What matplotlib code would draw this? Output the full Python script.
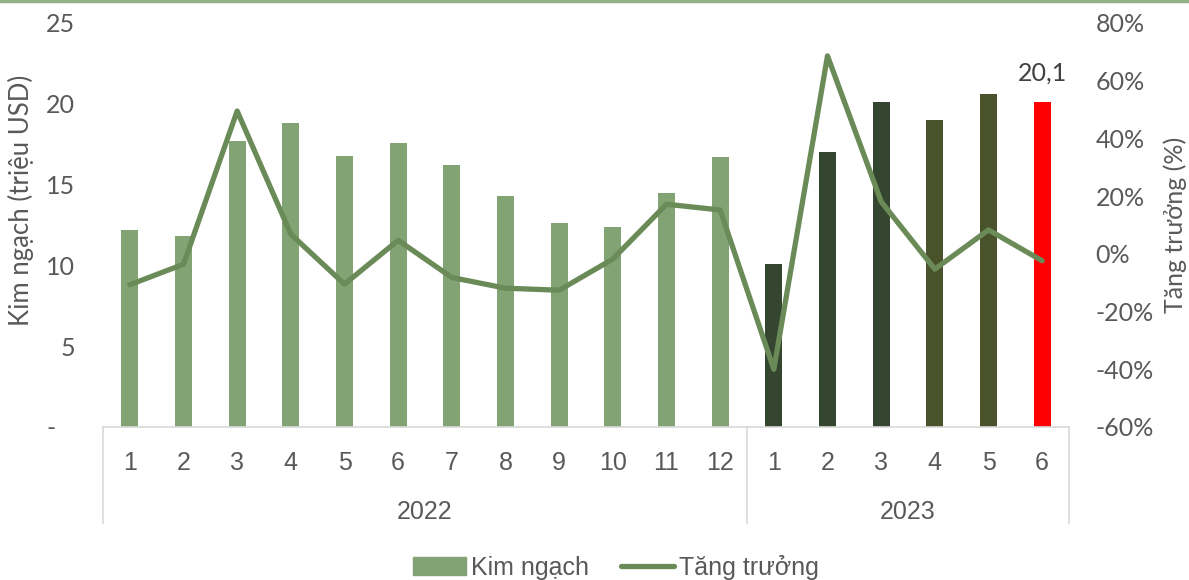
import matplotlib
matplotlib.use("Agg")
import matplotlib.pyplot as plt
from matplotlib.lines import Line2D
from matplotlib.patches import Patch
import matplotlib.transforms as mtransforms

# monthly export value (million USD) and growth (%)
months = ['1', '2', '3', '4', '5', '6', '7', '8', '9', '10', '11', '12',
          '1', '2', '3', '4', '5', '6']
years = ['2022', '2023']
year_counts = [12, 6]
kim_ngach = [12.2, 11.8, 17.7, 18.8, 16.8, 17.6, 16.2, 14.3, 12.6, 12.4, 14.5, 16.7,
             10.1, 17.0, 20.1, 19.0, 20.6, 20.1]
tang_truong = [-10.7, -3.6, 49.5, 6.8, -10.5, 4.7, -8.2, -11.9, -12.6, -1.8, 17.2, 15.2,
               -40.0, 68.6, 18.1, -5.3, 8.3, -2.4]
label_value = '20,1'

light = '#82A373'
dark = '#344530'
olive = '#4A522B'
bar_colors = [light] * 12 + [dark] * 3 + [olive] * 2 + ['#FF0000']
line_color = '#6A8B57'
txt = '#595959'
fs = 18

fig = plt.figure(figsize=(11.89, 5.80), dpi=100)
ax = fig.add_axes([103 / 1189, 1 - 427 / 580, (1069 - 103) / 1189, 404 / 580])
x = list(range(len(months)))

ax.bar(x, kim_ngach, width=0.32, color=bar_colors, zorder=2)
ax.set_xlim(-0.5, len(months) - 0.5)
ax.set_ylim(0, 25)
ax.set_yticks([0, 5, 10, 15, 20, 25])
ax.set_yticklabels(['-   ', '5', '10', '15', '20', '25'], fontfamily='Lato', fontsize=fs, color=txt)
ax.set_xticks(x)
ax.set_xticklabels(months, fontfamily='Liberation Sans', fontsize=fs, color=txt)
ax.tick_params(axis='x', length=0, pad=17)
ax.tick_params(axis='y', length=0, pad=20)
for s in ['top', 'left', 'right']:
    ax.spines[s].set_visible(False)
ax.spines['bottom'].set_color('#D9D9D9')
ax.spines['bottom'].set_linewidth(1.2)
ax.set_ylabel('Kim ngạch (triệu USD)', fontfamily='Lato', fontsize=18.5, color=txt)
ax.yaxis.set_label_coords(-0.071, 0.56)

ax.text(x[-1], kim_ngach[-1] + 1.1, label_value, ha='center', va='bottom',
        fontfamily='Lato', fontsize=fs, color='#404040')

# year level of the category axis
trans = mtransforms.blended_transform_factory(ax.transData, ax.transAxes)
start = -0.5
for yr, n in zip(years, year_counts):
    ax.text(start + n / 2, -0.21, yr, transform=trans, ha='center', va='center',
            fontfamily='Liberation Sans', fontsize=fs, color=txt)
    start += n
edges = [-0.5]
for n in year_counts:
    edges.append(edges[-1] + n)
for e in edges:
    ax.add_line(Line2D([e, e], [0, -0.238], transform=trans, color='#D9D9D9',
                       lw=1.2, clip_on=False))

ax2 = ax.twinx()
ax2.plot(x, tang_truong, color=line_color, lw=3.8, solid_capstyle='round',
         solid_joinstyle='round', zorder=3)
ax2.set_ylim(-60, 80)
ax2.set_yticks(range(-60, 81, 20))
ax2.set_yticklabels([f'{v}%' for v in range(-60, 81, 20)], fontfamily='Lato',
                    fontsize=fs, color=txt)
ax2.tick_params(axis='y', length=0, pad=19)
for s in ['top', 'left', 'right', 'bottom']:
    ax2.spines[s].set_visible(False)
ax2.set_ylabel('Tăng trưởng (%)', fontfamily='Lato', fontsize=fs, color=txt, labelpad=7)

handles = [Patch(color=light), Line2D([0], [0], color=line_color, lw=3.8, solid_capstyle='round')]
fig.legend(handles, ['Kim ngạch', 'Tăng trưởng'], loc='center', bbox_to_anchor=(0.518, 1 - 567 / 580),
           ncol=2, frameon=False, handlelength=2.1, handletextpad=0.2, columnspacing=1.3,
           prop={'family': 'Liberation Sans', 'size': fs}, labelcolor=txt)

# top border line
fig.add_artist(Line2D([0, 1], [0.998, 0.998], transform=fig.transFigure, color='#93B283', lw=2.5))

fig.savefig('out.png', dpi=100)
